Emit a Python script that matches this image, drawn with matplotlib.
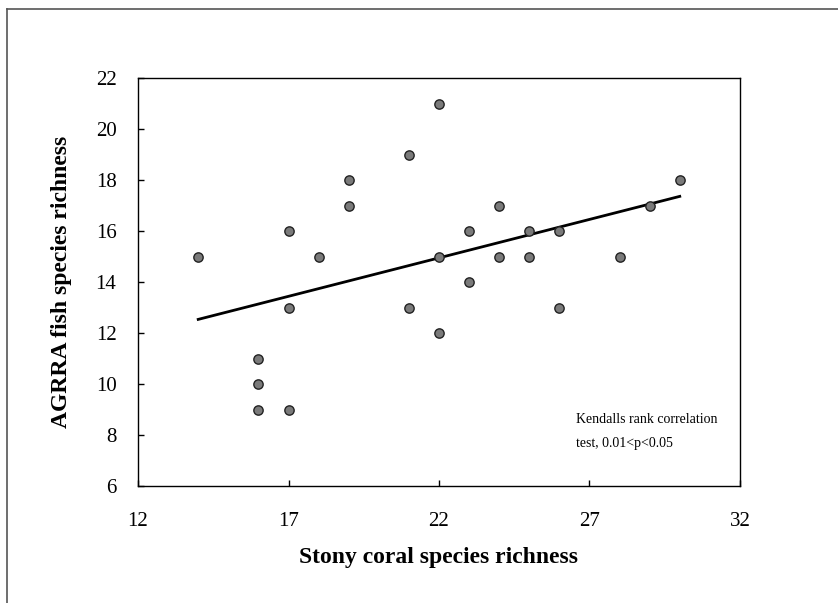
import numpy as np
import matplotlib
matplotlib.use("Agg")
import matplotlib.pyplot as plt
from matplotlib.lines import Line2D

# stony coral richness vs AGRRA fish richness
coral = [14, 16, 16, 16, 17, 17, 17, 18, 19, 19, 21, 21, 22, 22, 22,
         23, 23, 24, 24, 25, 25, 26, 26, 28, 29, 30]
fish = [15, 11, 10, 9, 9, 16, 13, 15, 17, 18, 19, 13, 21, 15, 12,
        16, 14, 17, 15, 16, 15, 16, 13, 15, 17, 18]

x_ticks = [12, 17, 22, 27, 32]
y_ticks = [6, 8, 10, 12, 14, 16, 18, 20, 22]

plt.rcParams['font.family'] = ['Liberation Serif', 'DejaVu Serif']

fig = plt.figure(figsize=(8.38, 6.03), dpi=100)
ax = fig.add_axes([0.1647, 0.194, 0.7183, 0.6766])

ax.scatter(coral, fish, s=45, c='#7a7a7a', edgecolors='#222222',
           linewidths=1.0, zorder=3)

# least squares trend line over the data range
slope, inter = np.polyfit(coral, fish, 1)
xl = np.array([min(coral), max(coral)])
ax.plot(xl, slope * xl + inter, color='black', lw=2, zorder=2)

ax.set_xlim(12, 32)
ax.set_ylim(6, 22)
ax.set_xticks(x_ticks)
ax.set_yticks(y_ticks)
ax.tick_params(direction='in', length=4, width=1, labelsize=15)
ax.tick_params(axis='x', pad=19)
ax.tick_params(axis='y', pad=15.5)
for s in ax.spines.values():
    s.set_linewidth(1)
    s.set_color('black')

ax.set_xlabel('Stony coral species richness', fontsize=17,
              fontweight='bold', labelpad=11)
ax.set_ylabel('AGRRA fish species richness', fontsize=17,
              fontweight='bold', labelpad=17)

ax.text(0.727, 0.088, "Kendalls rank correlation\ntest, 0.01<p<0.05",
        transform=ax.transAxes, fontsize=10, va='bottom', ha='left',
        linespacing=2.1)

# outer frame (only left and top edges visible in the scan)
fig.add_artist(Line2D([0.0085, 0.0085], [0, 0.985], transform=fig.transFigure,
                      color='#555555', lw=1.2))
fig.add_artist(Line2D([0.0085, 1], [0.985, 0.985], transform=fig.transFigure,
                      color='#555555', lw=1.2))

fig.savefig('out.png', dpi=100)
